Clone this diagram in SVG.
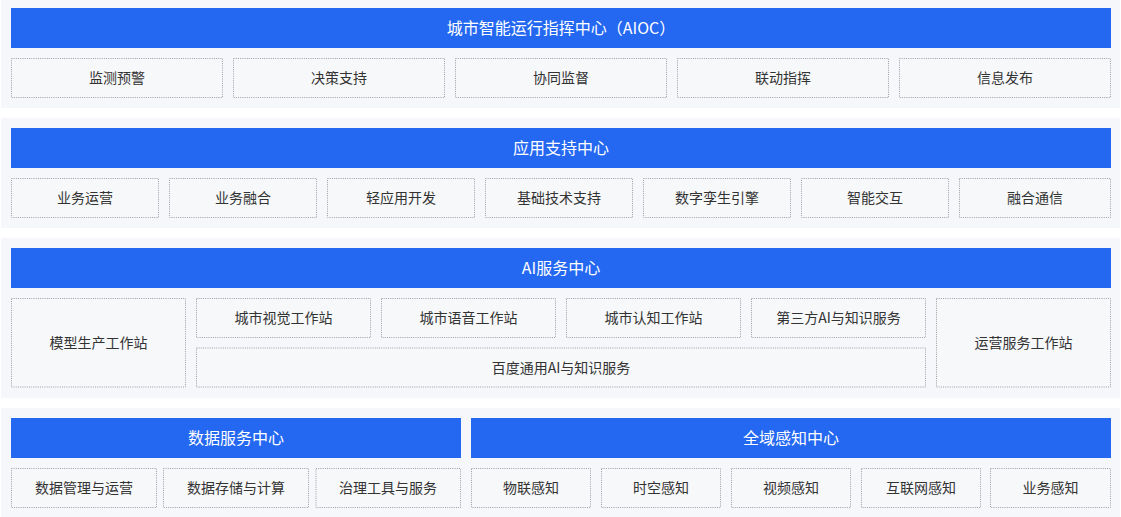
<svg xmlns="http://www.w3.org/2000/svg" width="1121" height="517" viewBox="0 0 1121 517">
<style>
.bg{fill:#f5f7fa}
.bar{fill:#2468f2}
.box{fill:#f7f8fa;stroke:#9a9ea6;stroke-width:1;stroke-dasharray:1 1.2}
.ht{font-family:"Noto Sans CJK SC","Noto Sans",sans-serif;font-size:16px;fill:#ffffff;text-anchor:middle;dominant-baseline:central}
.bt{font-family:"Noto Sans CJK SC","Noto Sans",sans-serif;font-size:14px;fill:#333333;text-anchor:middle;dominant-baseline:central}
</style>
<rect width="1121" height="517" fill="#ffffff"/>
<g id="sec-aioc">
<rect class="bg" x="1" y="0" width="1119" height="108"/>
<rect class="bar" x="11" y="8" width="1100" height="40"/>
<text class="ht" x="561" y="27">城市智能运行指挥中心（AIOC）</text>
<g id="n-jcyj"><rect class="box" x="11.5" y="58.5" width="211" height="39"/><text class="bt" x="117" y="77">监测预警</text></g>
<g id="n-jczc"><rect class="box" x="233.5" y="58.5" width="211" height="39"/><text class="bt" x="339" y="77">决策支持</text></g>
<g id="n-xtjd"><rect class="box" x="455.5" y="58.5" width="211" height="39"/><text class="bt" x="561" y="77">协同监督</text></g>
<g id="n-ldzh"><rect class="box" x="677.5" y="58.5" width="211" height="39"/><text class="bt" x="783" y="77">联动指挥</text></g>
<g id="n-xxfb"><rect class="box" x="899.5" y="58.5" width="211" height="39"/><text class="bt" x="1005" y="77">信息发布</text></g>
</g>
<g id="sec-app">
<rect class="bg" x="1" y="118" width="1119" height="110"/>
<rect class="bar" x="11" y="128" width="1100" height="40"/>
<text class="ht" x="561" y="147">应用支持中心</text>
<g id="n-ywyy"><rect class="box" x="11.5" y="178.5" width="147" height="39"/><text class="bt" x="85" y="197">业务运营</text></g>
<g id="n-ywrh"><rect class="box" x="169.5" y="178.5" width="147" height="39"/><text class="bt" x="243" y="197">业务融合</text></g>
<g id="n-qyykf"><rect class="box" x="327.5" y="178.5" width="147" height="39"/><text class="bt" x="401" y="197">轻应用开发</text></g>
<g id="n-jcjszc"><rect class="box" x="485.5" y="178.5" width="147" height="39"/><text class="bt" x="559" y="197">基础技术支持</text></g>
<g id="n-szlsyq"><rect class="box" x="643.5" y="178.5" width="147" height="39"/><text class="bt" x="717" y="197">数字孪生引擎</text></g>
<g id="n-znjh"><rect class="box" x="801.5" y="178.5" width="147" height="39"/><text class="bt" x="875" y="197">智能交互</text></g>
<g id="n-rhtx"><rect class="box" x="959.5" y="178.5" width="151" height="39"/><text class="bt" x="1035" y="197">融合通信</text></g>
</g>
<g id="sec-ai">
<rect class="bg" x="1" y="238" width="1119" height="160"/>
<rect class="bar" x="11" y="248" width="1100" height="40"/>
<text class="ht" x="561" y="267">AI服务中心</text>
<g id="n-mxsc"><rect class="box" x="11.5" y="298.5" width="174" height="88.5"/><text class="bt" x="98.5" y="342">模型生产工作站</text></g>
<g id="n-csjj"><rect class="box" x="196.5" y="298.5" width="174" height="39"/><text class="bt" x="283.5" y="317">城市视觉工作站</text></g>
<g id="n-csyy"><rect class="box" x="381.5" y="298.5" width="174" height="39"/><text class="bt" x="468.5" y="317">城市语音工作站</text></g>
<g id="n-csrz"><rect class="box" x="566.5" y="298.5" width="174" height="39"/><text class="bt" x="653.5" y="317">城市认知工作站</text></g>
<g id="n-dsf"><rect class="box" x="751.5" y="298.5" width="174" height="39"/><text class="bt" x="838.5" y="317">第三方AI与知识服务</text></g>
<g id="n-bdty"><rect class="box" x="196.5" y="348" width="729" height="39"/><text class="bt" x="561" y="366.5">百度通用AI与知识服务</text></g>
<g id="n-yyfw"><rect class="box" x="936.5" y="298.5" width="174" height="88.5"/><text class="bt" x="1023.5" y="342">运营服务工作站</text></g>
</g>
<g id="sec-data">
<rect class="bg" x="1" y="408" width="1119" height="110"/>
<rect class="bar" x="11" y="418" width="450" height="40"/>
<text class="ht" x="236" y="437">数据服务中心</text>
<rect class="bar" x="471" y="418" width="640" height="40"/>
<text class="ht" x="791" y="437">全域感知中心</text>
<g id="n-sjgl"><rect class="box" x="11.5" y="468.5" width="145" height="39"/><text class="bt" x="84" y="487">数据管理与运营</text></g>
<g id="n-sjcc"><rect class="box" x="163.5" y="468.5" width="145" height="39"/><text class="bt" x="236" y="487">数据存储与计算</text></g>
<g id="n-zlgj"><rect class="box" x="316" y="468.5" width="144.5" height="39"/><text class="bt" x="388" y="487">治理工具与服务</text></g>
<g id="n-wlgz"><rect class="box" x="471.5" y="468.5" width="119" height="39"/><text class="bt" x="531" y="487">物联感知</text></g>
<g id="n-skgz"><rect class="box" x="601.5" y="468.5" width="119" height="39"/><text class="bt" x="661" y="487">时空感知</text></g>
<g id="n-spgz"><rect class="box" x="731.5" y="468.5" width="119" height="39"/><text class="bt" x="791" y="487">视频感知</text></g>
<g id="n-hlwgz"><rect class="box" x="861.5" y="468.5" width="119" height="39"/><text class="bt" x="921" y="487">互联网感知</text></g>
<g id="n-ywgz"><rect class="box" x="990.5" y="468.5" width="120" height="39"/><text class="bt" x="1050.5" y="487">业务感知</text></g>
</g>
<g id="connectors"></g>
</svg>
